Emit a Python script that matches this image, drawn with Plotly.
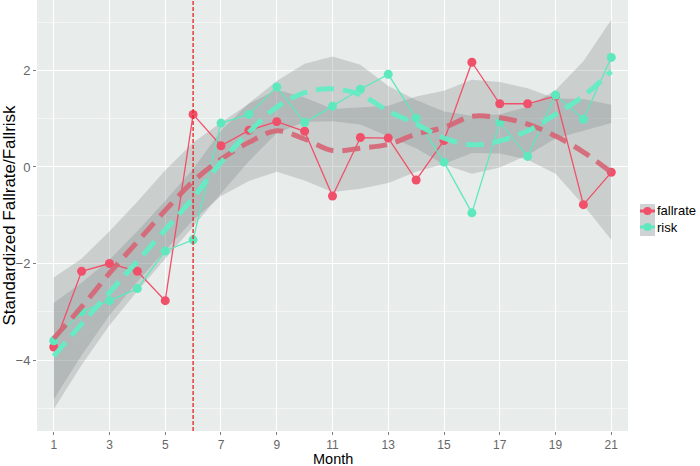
import plotly.graph_objects as go

months = list(range(1, 22))
fallrate = [-3.73, -2.16, -2.0, -2.16, -2.77, 1.09, 0.44, 0.76, 0.94, 0.74, -0.60,
            0.61, 0.60, -0.27, 0.55, 2.17, 1.31, 1.31, 1.47, -0.78, -0.11]
risk = [-3.60, -3.0, -2.77, -2.52, -1.74, -1.51, 0.91, 1.09, 1.66, 0.92, 1.26,
        1.61, 1.92, 1.01, 0.10, -0.95, 0.93, 0.22, 1.49, 0.99, 2.27]
fall_smooth = [-3.55, -2.9, -2.2, -1.55, -0.9, -0.3, 0.16, 0.51, 0.75, 0.58, 0.34,
               0.39, 0.47, 0.68, 0.82, 1.05, 1.02, 0.89, 0.64, 0.31, -0.11]
fall_se = [1.26, 1.0, 0.87, 0.83, 0.83, 0.8, 0.76, 0.8, 0.85, 0.86, 0.86,
           0.84, 0.8, 0.78, 0.76, 0.76, 0.74, 0.74, 0.78, 1.1, 1.4]
risk_smooth = [-3.92, -3.25, -2.6, -1.95, -1.3, -0.64, 0.1, 0.72, 1.24, 1.54, 1.62,
               1.5, 1.16, 0.89, 0.6, 0.46, 0.54, 0.75, 1.09, 1.47, 1.98]
risk_se = [1.1, 0.85, 0.68, 0.62, 0.6, 0.6, 0.65, 0.6, 0.54, 0.6, 0.67,
           0.62, 0.52, 0.5, 0.55, 0.6, 0.55, 0.5, 0.5, 0.72, 1.07]
intervention_month = 6
x_ticks = list(range(1, 22, 2))
y_ticks = [-4, -2, 0, 2]
y_tick_text = ["\u22124", "\u22122", "0", "2"]

RED = "#F0506A"
TEAL = "#5EE8BE"
RED_SMOOTH = "rgba(214,100,116,0.9)"
TEAL_SMOOTH = "rgba(100,236,196,0.95)"
RIBBON = "rgba(110,118,118,0.25)"
FONT = "Liberation Sans, Arial, sans-serif"

fig = go.Figure()

for sm, se in [(fall_smooth, fall_se), (risk_smooth, risk_se)]:
    upper = [m + s for m, s in zip(sm, se)]
    lower = [m - s for m, s in zip(sm, se)]
    fig.add_trace(go.Scatter(
        x=months + months[::-1], y=upper + lower[::-1],
        fill="toself", fillcolor=RIBBON, line=dict(width=0),
        mode="lines", hoverinfo="skip", showlegend=False))

for ys, col in [(fallrate, RED), (risk, TEAL)]:
    fig.add_trace(go.Scatter(
        x=months, y=ys, mode="lines+markers",
        line=dict(color=col, width=1.3),
        marker=dict(color=col, size=9), showlegend=False))

for ys, col in [(fall_smooth, RED_SMOOTH), (risk_smooth, TEAL_SMOOTH)]:
    fig.add_trace(go.Scatter(
        x=months, y=ys, mode="lines", line_shape="spline",
        line=dict(color=col, width=5, dash="18px,9px"), showlegend=False))

fig.add_vline(x=intervention_month, line=dict(color="#E0241E", width=1.3, dash="4px,2px"))

# custom legend (ggplot style)
L, R, T, B = 37, 628, 0, 431
def px2x(p):
    return (p - L) / (R - L)
def py2y(p):
    return (B - p) / (B - T)

fig.add_shape(type="rect", xref="paper", yref="paper",
              x0=px2x(640), x1=px2x(655), y0=py2y(204), y1=py2y(236),
              fillcolor="#cfd3d3", line=dict(width=0))
for cy, col, name in [(211, RED, "fallrate"), (227, TEAL, "risk")]:
    fig.add_shape(type="line", xref="paper", yref="paper",
                  x0=px2x(640), x1=px2x(655), y0=py2y(cy), y1=py2y(cy),
                  line=dict(color=col, width=3))
    fig.add_shape(type="circle", xref="paper", yref="paper",
                  x0=px2x(643.5), x1=px2x(651.5), y0=py2y(cy - 4), y1=py2y(cy + 4),
                  fillcolor=col, line=dict(width=0))
    fig.add_annotation(xref="paper", yref="paper", x=px2x(655), y=py2y(cy),
                       text=name, showarrow=False, xanchor="left", yanchor="middle",
                       font=dict(size=13, color="black", family=FONT))

# x-axis title placed like ggplot's
fig.add_annotation(xref="paper", yref="paper", x=0.5, y=py2y(458.5),
                   text="Month", showarrow=False, xanchor="center", yanchor="middle",
                   font=dict(size=14.5, color="black", family=FONT))

fig.update_layout(
    width=700, height=466,
    margin=dict(l=L, r=700 - R, t=T, b=466 - B, autoexpand=False),
    paper_bgcolor="white", plot_bgcolor="#E8ECEB",
    font=dict(family=FONT, size=12),
    showlegend=False,
)
fig.update_xaxes(
    range=[0.4, 21.6], tickvals=x_ticks, showgrid=True, gridcolor="white", gridwidth=1.2,
    zeroline=False, ticks="outside", ticklen=3, tickcolor="#7f7f7f",
    tickfont=dict(size=12, color="#666666"), automargin=False,
)
fig.update_yaxes(
    range=[-5.47, 3.46], tickvals=y_ticks, ticktext=y_tick_text,
    showgrid=True, gridcolor="white", gridwidth=1.2, zeroline=False,
    ticks="outside", ticklen=3, tickcolor="#7f7f7f",
    tickfont=dict(size=13, color="#666666"), automargin=False,
    minor=dict(tickvals=[-5, -3, -1, 1, 3], showgrid=True, gridcolor="#F4F6F5", gridwidth=0.6, ticks=""),
    title=dict(text="Standardized Fallrate/Fallrisk", font=dict(size=17, color="black")),
)

fig.write_html("out.html", config={"displayModeBar": False},
               post_script="document.body.style.margin='0';document.body.style.overflow='hidden';")
